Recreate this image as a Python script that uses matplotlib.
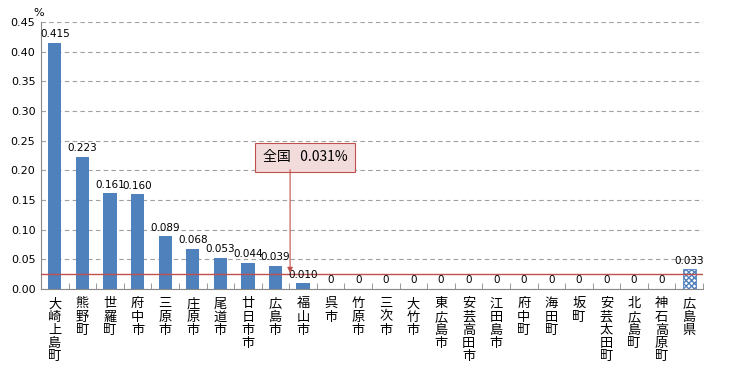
import numpy as np
import matplotlib.pyplot as plt

plt.rcParams['font.family'] = ['Noto Sans CJK JP', 'DejaVu Sans']

names = ["大崎上島町", "熊野町", "世羅町", "府中市", "三原市", "庄原市", "尾道市", "廿日市市",
         "広島市", "福山市", "呉市", "竹原市", "三次市", "大竹市", "東広島市", "安芸高田市",
         "江田島市", "府中町", "海田町", "坂町", "安芸太田町", "北広島町", "神石高原町", "広島県"]
values = [0.415, 0.223, 0.161, 0.160, 0.089, 0.068, 0.053, 0.044, 0.039, 0.010,
          0, 0, 0, 0, 0, 0, 0, 0, 0, 0, 0, 0, 0, 0.033]
labels = ["0.415", "0.223", "0.161", "0.160", "0.089", "0.068", "0.053", "0.044", "0.039", "0.010",
          "0", "0", "0", "0", "0", "0", "0", "0", "0", "0", "0", "0", "0", "0.033"]
national_line = 0.026
national_text = "全国   0.031%"

fig = plt.figure(figsize=(7.35, 3.71), dpi=100)
ax = fig.add_axes([0.0558, 0.221, 0.9007, 0.7197])

x = np.arange(len(values))
ax.bar(x[:-1], values[:-1], width=0.48, color="#4f81bd", zorder=2)
ax.bar(x[-1], values[-1], width=0.48, color="white", edgecolor="#4f81bd",
       hatch="xxxxxx", linewidth=0.6, zorder=2)

for xi, v, lab in zip(x, values, labels):
    ax.text(xi, v + 0.006, lab, ha="center", va="bottom", fontsize=7.5,
            family="DejaVu Sans", zorder=4)

ax.axhline(national_line, color="#c0504d", linewidth=1.0, zorder=3)

# callout box and arrow
ax.text(9.07, 0.222, national_text, ha="center", va="center", fontsize=10, zorder=5,
        bbox=dict(boxstyle="square,pad=0.55", fc="#f2dcdb", ec="#c0504d", lw=0.8))
ax.annotate("", xy=(8.53, national_line + 0.001), xytext=(8.53, 0.201),
            arrowprops=dict(arrowstyle="-|>", color="#c0504d", lw=0.8,
                            shrinkA=0, shrinkB=0, mutation_scale=8),
            zorder=5)

ax.set_xlim(-0.5, len(values) - 0.5)
ax.set_ylim(0, 0.45)
yt = np.arange(0, 0.451, 0.05)
ax.set_yticks(yt)
ax.set_yticklabels([f"{t:.2f}" for t in yt], fontsize=8, family="DejaVu Sans")
ax.yaxis.grid(True, linestyle=(0, (4, 3)), color="#a0a0a0", linewidth=0.8, zorder=0)
ax.set_axisbelow(True)

ax.set_xticks(x)
ax.set_xticklabels(["\n".join(n) for n in names], fontsize=9.5, va="top",
                   linespacing=1.02)
ax.tick_params(axis="x", length=0, pad=6)
ax.set_xticks(np.arange(-0.5, len(values), 1), minor=True)
ax.tick_params(axis="x", which="minor", direction="in", length=4, color="#888888")
ax.tick_params(axis="y", length=0, pad=4)

for s in ["top", "right"]:
    ax.spines[s].set_visible(False)
for s in ["left", "bottom"]:
    ax.spines[s].set_color("#888888")

fig.text(0.052, 0.965, "%", fontsize=8, ha="center", va="center", family="DejaVu Sans")

fig.savefig("out.png", dpi=100)
